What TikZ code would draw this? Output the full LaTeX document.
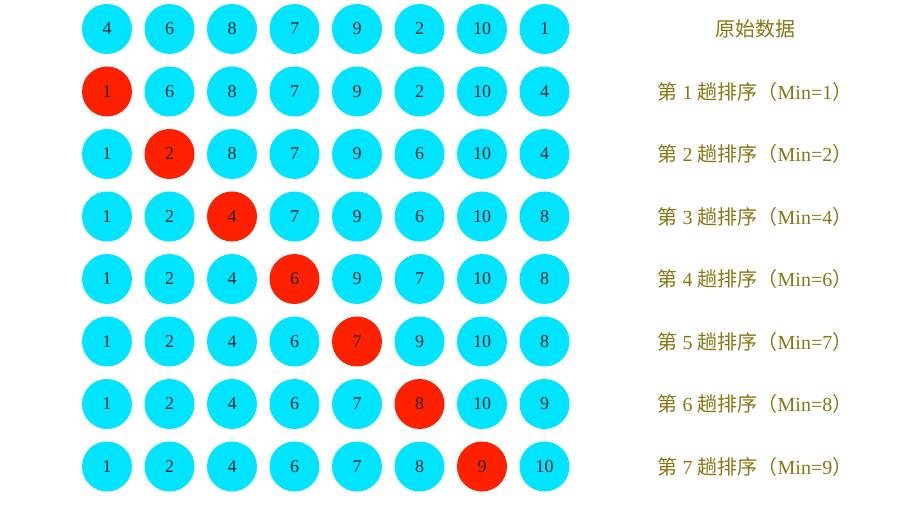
\documentclass[tikz,border=0pt]{standalone}
\usepackage{fontspec}
\setmainfont{Liberation Serif}
\newfontfamily\cjk{Noto Sans CJK SC}
\definecolor{ballc}{RGB}{0,228,255}
\definecolor{ballr}{RGB}{255,32,0}
\definecolor{lbl}{RGB}{135,118,20}
\begin{document}
\begin{tikzpicture}[x=1pt,y=-1pt,
  ball/.style={circle,fill=ballc,minimum size=50pt,inner sep=0pt,font=\fontsize{18}{18}\selectfont,text=black!85},
  hot/.style={ball,fill=ballr},
  lab/.style={text=lbl,font=\fontsize{20}{20}\selectfont,anchor=center}]
\useasboundingbox (0,0) rectangle (898,513);
\foreach \r/\vals/\h in {0/{4,6,8,7,9,2,10,1}/0,
                         1/{1,6,8,7,9,2,10,4}/1,
                         2/{1,2,8,7,9,6,10,4}/2,
                         3/{1,2,4,7,9,6,10,8}/3,
                         4/{1,2,4,6,9,7,10,8}/4,
                         5/{1,2,4,6,7,9,10,8}/5,
                         6/{1,2,4,6,7,8,10,9}/6,
                         7/{1,2,4,6,7,8,9,10}/7}{
  \foreach \v [count=\c] in \vals {
    \ifnum\c=\h
      \node[hot] (b\r-\c) at ({107+62.5*(\c-1)},{29+62.5*\r}) {\v};
    \else
      \node[ball] (b\r-\c) at ({107+62.5*(\c-1)},{29+62.5*\r}) {\v};
    \fi
  }
}
\node[lab] (l0) at (755,29) {{\cjk 原始数据}};
\foreach \r/\m in {1/1,2/2,3/4,4/6,5/7,6/8,7/9}{
  \node[lab] (l\r) at (755,{29+62.5*\r}) {{\cjk 第} \r{} {\cjk 趟排序（}Min=\m{\cjk ）}};
}
\end{tikzpicture}
\end{document}
